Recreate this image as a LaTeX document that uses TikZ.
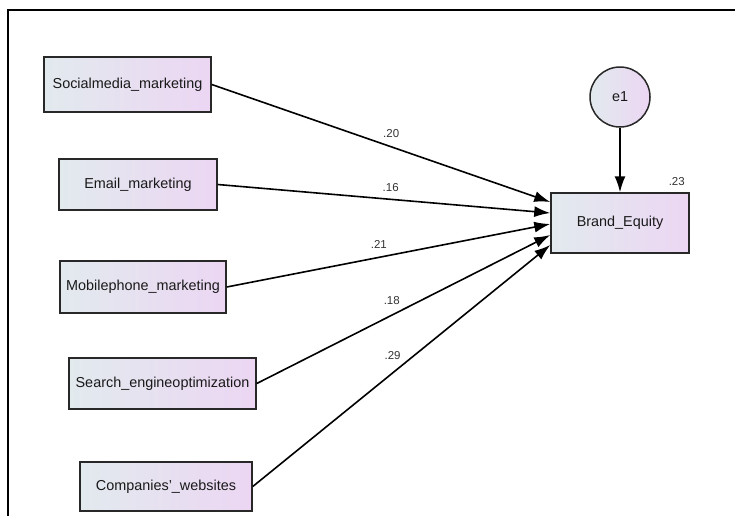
\documentclass[tikz,border=0pt]{standalone}
\usepackage{fontspec}
\setmainfont{Liberation Sans}
\usetikzlibrary{arrows.meta}
\definecolor{boxLeft}{RGB}{226,234,238}
\definecolor{boxRight}{RGB}{236,214,243}
\definecolor{boxLine}{RGB}{40,40,40}
\tikzset{
  obsVar/.style={draw=boxLine, line width=1.5pt, left color=boxLeft, right color=boxRight,
    font=\fontsize{14.4}{17}\selectfont, text=black!90, inner sep=0pt},
  errVar/.style={obsVar, circle, minimum size=60pt},
  pathArrow/.style={line width=1.6pt, -{Latex[length=16pt,width=11pt]}},
  coefLabel/.style={font=\fontsize{11.5}{13}\selectfont, text=black!80, inner sep=1pt}
}
\begin{document}
\begin{tikzpicture}[x=1pt,y=-1pt]
\useasboundingbox (0,0) rectangle (735,515);
\draw[line width=1.6pt] (8,520) -- (8,10) -- (740,10);
\node[obsVar, minimum width=167pt, minimum height=55pt] (social) at (127.5,84.5) {Socialmedia\_marketing};
\node[obsVar, minimum width=158pt, minimum height=51pt] (email) at (138,184.5) {Email\_marketing};
\node[obsVar, minimum width=166pt, minimum height=52pt] (mobile) at (143,287) {Mobilephone\_marketing};
\node[obsVar, minimum width=187pt, minimum height=51pt] (search) at (162.5,383.5) {Search\_engineoptimization};
\node[obsVar, minimum width=172pt, minimum height=49pt] (websites) at (166,486.5) {Companies'\_websites};
\node[obsVar, minimum width=138pt, minimum height=60pt] (brand) at (620,223) {Brand\_Equity};
\node[errVar] (e1) at (620,97) {e1};
\draw[pathArrow] (social.east) -- ([yshift=21pt]brand.west) node[coefLabel, pos=0.53, yshift=13pt] {.20};
\draw[pathArrow] (email.east) -- ([yshift=10pt]brand.west) node[coefLabel, pos=0.52, yshift=12pt] {.16};
\draw[pathArrow] (mobile.east) -- ([yshift=-1pt]brand.west) node[coefLabel, pos=0.47, yshift=13pt] {.21};
\draw[pathArrow] (search.east) -- ([yshift=-12pt]brand.west) node[coefLabel, pos=0.46, yshift=15pt] {.18};
\draw[pathArrow] (websites.east) -- ([yshift=-22pt]brand.west) node[coefLabel, pos=0.47, yshift=17pt] {.29};
\draw[pathArrow] (e1) -- (brand);
\node[coefLabel] (r2) at ([xshift=-13pt,yshift=11pt]brand.north east) {.23};
\end{tikzpicture}
\end{document}
